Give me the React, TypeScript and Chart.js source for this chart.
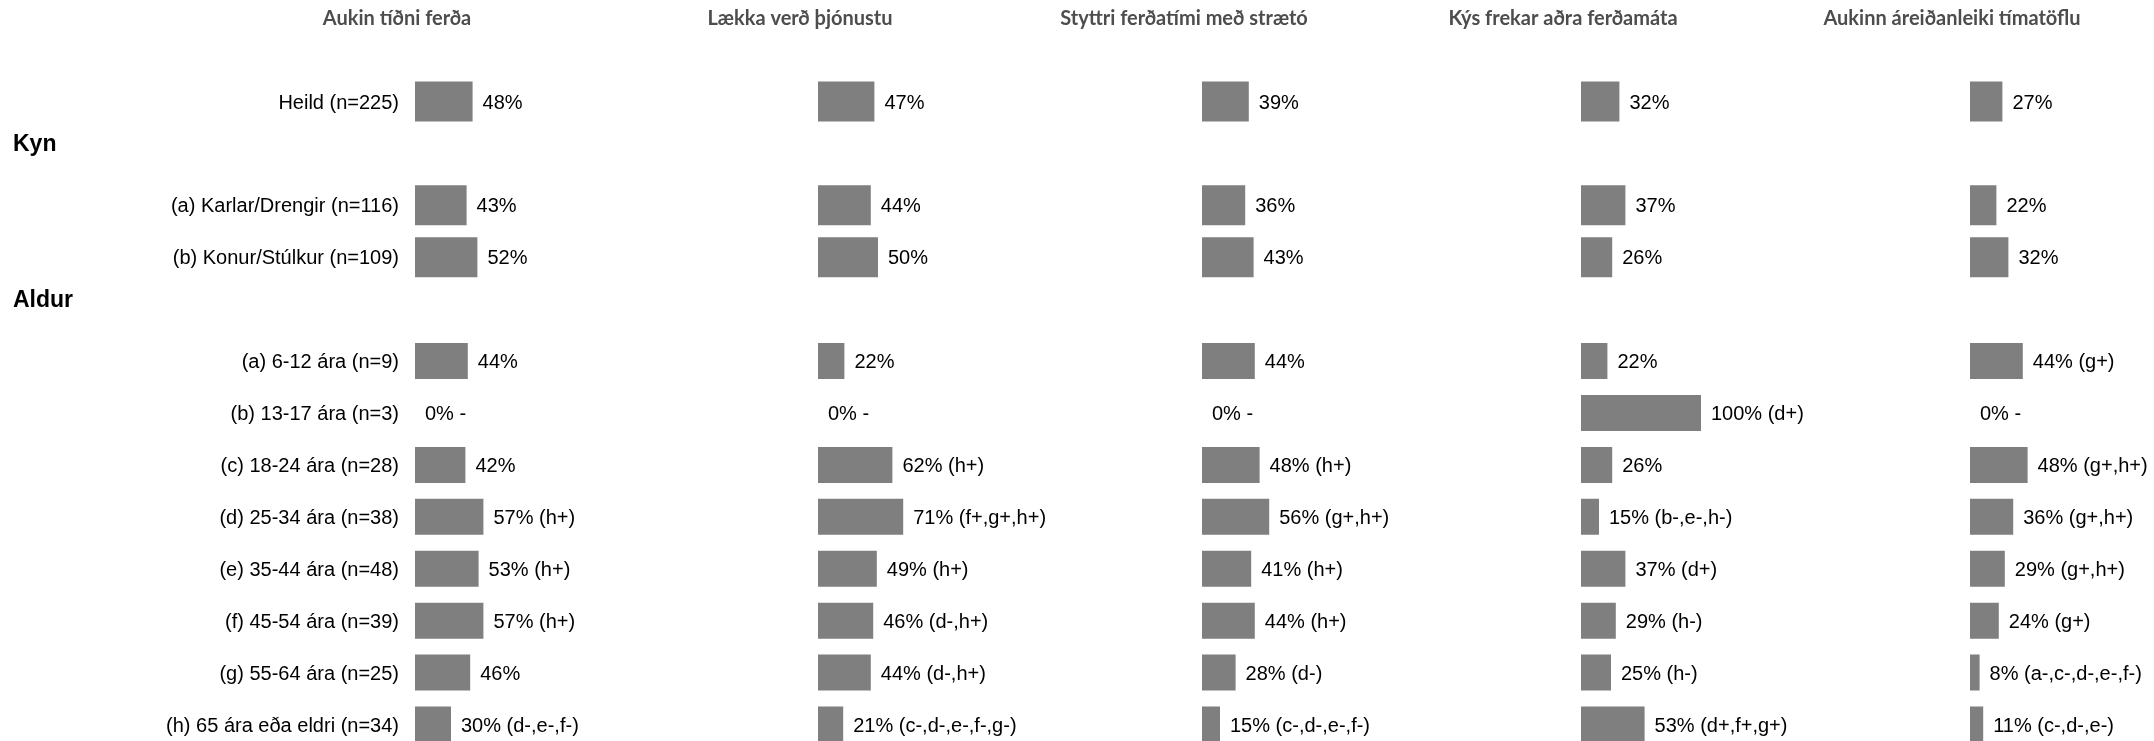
import React, { useEffect, useRef } from 'react';
import { Chart, registerables } from 'chart.js';

Chart.register(...registerables);

// ---------- data ----------
const rowLabels = [
  'Heild (n=225)',
  '',
  '(a) Karlar/Drengir (n=116)',
  '(b) Konur/Stúlkur (n=109)',
  '',
  '(a) 6-12 ára (n=9)',
  '(b) 13-17 ára (n=3)',
  '(c) 18-24 ára (n=28)',
  '(d) 25-34 ára (n=38)',
  '(e) 35-44 ára (n=48)',
  '(f) 45-54 ára (n=39)',
  '(g) 55-64 ára (n=25)',
  '(h) 65 ára eða eldri (n=34)',
];

const sectionHeaderRows = [1, 4];
const sectionHeaderTexts = ['Kyn', 'Aldur'];

const panelTitles = [
  'Aukin tíðni ferða',
  'Lækka verð þjónustu',
  'Styttri ferðatími með strætó',
  'Kýs frekar aðra ferðamáta',
  'Aukinn áreiðanleiki tímatöflu',
];

const valuesTidni = [48, null, 43, 52, null, 44, 0, 42, 57, 53, 57, 46, 30];
const notesTidni = ['', '', '', '', '', '', '-', '', '(h+)', '(h+)', '(h+)', '', '(d-,e-,f-)'];

const valuesVerd = [47, null, 44, 50, null, 22, 0, 62, 71, 49, 46, 44, 21];
const notesVerd = ['', '', '', '', '', '', '-', '(h+)', '(f+,g+,h+)', '(h+)', '(d-,h+)', '(d-,h+)', '(c-,d-,e-,f-,g-)'];

const valuesFerdatimi = [39, null, 36, 43, null, 44, 0, 48, 56, 41, 44, 28, 15];
const notesFerdatimi = ['', '', '', '', '', '', '-', '(h+)', '(g+,h+)', '(h+)', '(h+)', '(d-)', '(c-,d-,e-,f-)'];

const valuesAdra = [32, null, 37, 26, null, 22, 100, 26, 15, 37, 29, 25, 53];
const notesAdra = ['', '', '', '', '', '', '(d+)', '', '(b-,e-,h-)', '(d+)', '(h-)', '(h-)', '(d+,f+,g+)'];

const valuesTimatafla = [27, null, 22, 32, null, 44, 0, 48, 36, 29, 24, 8, 11];
const notesTimatafla = ['', '', '', '', '', '(g+)', '-', '(g+,h+)', '(g+,h+)', '(g+,h+)', '(g+)', '(a-,c-,d-,e-,f-)', '(c-,d-,e-)'];

const panelValues = [valuesTidni, valuesVerd, valuesFerdatimi, valuesAdra, valuesTimatafla];
const panelNotes = [notesTidni, notesVerd, notesFerdatimi, notesAdra, notesTimatafla];

// ---------- layout ----------
const PAGE_W = 2154;
const PAGE_H = 741;
const CANVAS_H = 780;
const AREA_TOP = 75.54;
const AREA_BOTTOM = 750.46;
const PANEL_STARTS = [415, 818, 1202, 1581, 1970];
const LEFT_GUTTER = 160;
const PANEL_W = 280;
const PX_PER_PCT = 1.2;
const FIRST_SECTION_END = 3; // last row index drawn with the thicker bars
const TEXT_DY = 1.5;

const LABEL_FONT = '20px "Liberation Sans", Arial, sans-serif';
const HEADER_FONT = 'bold 23px "Liberation Sans", Arial, sans-serif';
const TITLE_FONT = 'bold 20px Lato, "Open Sans", sans-serif';

function Panel({ index }: { index: number }) {
  const ref = useRef<HTMLCanvasElement | null>(null);
  const isFirst = index === 0;
  const canvasLeft = isFirst ? 0 : PANEL_STARTS[index] - LEFT_GUTTER;
  const canvasW = isFirst ? PANEL_STARTS[0] + PANEL_W : LEFT_GUTTER + PANEL_W;

  useEffect(() => {
    if (!ref.current) return;
    const vals = panelValues[index];
    const notes = panelNotes[index];
    const texts = vals.map((v, i) => (v == null ? '' : `${v}% ${notes[i]}`.trim()));
    const topData = vals.map((v, i) => (i <= FIRST_SECTION_END ? v : null));
    const bottomData = vals.map((v, i) => (i > FIRST_SECTION_END ? v : null));
    const step = (AREA_BOTTOM - AREA_TOP) / rowLabels.length;

    const overlay = {
      id: 'overlay' + index,
      afterDatasetsDraw(chart: any) {
        const ctx = chart.ctx;
        ctx.save();
        ctx.font = LABEL_FONT;
        ctx.fillStyle = '#000000';
        ctx.textAlign = 'left';
        ctx.textBaseline = 'middle';
        chart.data.datasets.forEach((ds: any, di: number) => {
          const meta = chart.getDatasetMeta(di);
          meta.data.forEach((el: any, i: number) => {
            if (ds.data[i] == null) return;
            ctx.fillText(texts[i], el.x + 10, el.y + TEXT_DY);
          });
        });
        ctx.font = TITLE_FONT;
        ctx.fillStyle = '#4d4d4d';
        ctx.textAlign = 'center';
        ctx.textBaseline = 'alphabetic';
        ctx.fillText(panelTitles[index], chart.chartArea.left - 18, 25);
        if (isFirst) {
          const y = chart.scales.y;
          ctx.font = HEADER_FONT;
          ctx.fillStyle = '#000000';
          ctx.textAlign = 'left';
          sectionHeaderRows.forEach((r, k) => {
            ctx.fillText(sectionHeaderTexts[k], 13, y.getPixelForValue(r) - 2);
          });
        }
        ctx.restore();
      },
    };

    const yScale: any = {
      display: isFirst,
      grid: { display: false, drawTicks: true, tickLength: 16 },
      border: { display: false },
      ticks: {
        autoSkip: false,
        padding: 0,
        labelOffset: TEXT_DY,
        color: '#000000',
        font: { family: '"Liberation Sans", Arial, sans-serif', size: 20 },
        callback: (_v: any, i: number) => rowLabels[i],
      },
    };
    if (isFirst) {
      yScale.afterFit = (scale: any) => {
        scale.width = PANEL_STARTS[0];
      };
    }

    const chart = new Chart(ref.current, {
      type: 'bar',
      data: {
        labels: rowLabels.map((l, i) => l || sectionHeaderTexts[sectionHeaderRows.indexOf(i)] || ''),
        datasets: [
          {
            data: topData as any,
            backgroundColor: '#7f7f7f',
            borderWidth: 0,
            grouped: false,
            categoryPercentage: 1,
            barPercentage: 40 / step,
          },
          {
            data: bottomData as any,
            backgroundColor: '#7f7f7f',
            borderWidth: 0,
            grouped: false,
            categoryPercentage: 1,
            barPercentage: 36 / step,
          },
        ],
      },
      options: {
        indexAxis: 'y',
        responsive: false,
        animation: false,
        devicePixelRatio: 1,
        layout: {
          padding: {
            top: AREA_TOP,
            bottom: CANVAS_H - AREA_BOTTOM,
            left: isFirst ? 0 : LEFT_GUTTER,
            right: 0,
          },
        },
        plugins: {
          legend: { display: false },
          tooltip: { enabled: false },
          title: { display: false },
        },
        scales: {
          x: {
            display: false,
            min: 0,
            max: PANEL_W / PX_PER_PCT,
          },
          y: yScale,
        },
      },
      plugins: [overlay],
    } as any);
    return () => chart.destroy();
  }, [index]);

  return (
    <div style={{ position: 'absolute', left: canvasLeft, top: 0, width: canvasW, height: CANVAS_H }}>
      <canvas ref={ref} width={canvasW} height={CANVAS_H} style={{ width: canvasW, height: CANVAS_H, display: 'block' }} />
    </div>
  );
}

export default function App() {
  return (
    <div
      style={{
        position: 'absolute',
        left: 0,
        top: 0,
        width: PAGE_W,
        height: PAGE_H,
        overflow: 'hidden',
        background: '#ffffff',
      }}
    >
      {panelTitles.map((_, i) => (
        <Panel key={i} index={i} />
      ))}
    </div>
  );
}
